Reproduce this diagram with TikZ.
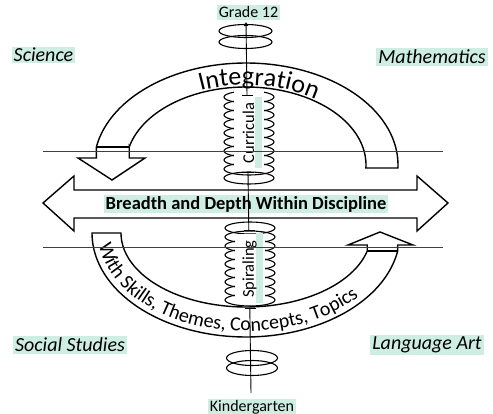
\documentclass[tikz,border=0pt]{standalone}
\usepackage{fontspec}
\setmainfont{Carlito}
\usetikzlibrary{decorations.text,arrows.meta}
\definecolor{hl}{RGB}{206,238,228}
\tikzset{
  band/.style={draw=black, line width=1.4pt, fill=white, line join=miter},
  seam/.style={draw=black, line width=1.2pt},
  ring/.style={draw=black, line width=1.1pt},
  axis/.style={draw=black, line width=0.9pt},
  guide/.style={draw=black!75, line width=0.9pt},
  tick/.style={draw=black, line width=0.9pt},
  hlbox/.style={fill=hl, inner xsep=2pt, inner ysep=1.5pt},
  corner/.style={hlbox, font=\fontsize{20}{20}\selectfont\itshape},
  endlabel/.style={hlbox, font=\fontsize{16}{16}\selectfont},
  coillabel/.style={rotate=90, inner sep=0pt, font=\fontsize{16.5}{16.5}\selectfont},
}
\begin{document}
\begin{tikzpicture}[x=1pt,y=-1pt]
\useasboundingbox (0,0) rectangle (493,414);
% middle coils
\foreach \yy in {97,106,...,178} \draw[ring] (249,\yy) ellipse [x radius=25pt, y radius=6pt];
\fill[white] (234,90) rectangle (264,171);
\foreach \yy in {228,237,...,300} \draw[ring] (250,\yy) ellipse [x radius=25pt, y radius=6pt];
\fill[white] (235,234) rectangle (265,303);
% top and bottom coils
\foreach \yy in {31,42} \draw[ring] (245.5,\yy) ellipse [x radius=26.5pt, y radius=6.5pt];
\foreach \yy in {358,368} \draw[ring] (252,\yy) ellipse [x radius=25.5pt, y radius=7.5pt];
% top band (Integration)
\draw[band] plot[domain=361.7:190.2, samples=90] ({246+152*cos(\x)},{165+102*sin(\x)})
  -- (96.4,158) -- (78,158) -- (112,180) -- (145,158) -- (129.2,158) -- (129.2,147)
  -- plot[domain=193.3:362.2, samples=90] ({246+120*cos(\x)},{165+78*sin(\x)}) -- cycle;
\draw[seam] (96.4,147) -- (129.2,147);
\path[decorate, decoration={text along path, text align=center,
   text={|\fontsize{26}{26}\selectfont|Integration}}]
  plot[domain=218:338, samples=80] ({246+121.5*cos(\x)},{165+80*sin(\x)});
% bottom band
\draw[band] plot[domain=180:10, samples=90] ({246+154*cos(\x)},{233+104*sin(\x)})
  -- (397.7,245) -- (413,245) -- (380,232) -- (348,245) -- (367.2,245)
  -- plot[domain=14.1:180, samples=90] ({246+125*cos(\x)},{233+74*sin(\x)}) -- cycle;
\draw[seam] (367.2,251) -- (397.7,251);
\path[decorate, decoration={text along path,
   text={|\fontsize{20}{20}\selectfont|With Skills, Themes, Concepts, Topics}}]
  plot[domain=173:10, samples=140] ({246+148*cos(\x)},{233+98*sin(\x)});
% double arrow
\draw[band] (43,203) -- (74,176) -- (74,190) -- (417,190) -- (417,176) -- (448,203)
  -- (417,231) -- (417,218) -- (74,218) -- (74,231) -- cycle;
\node[hlbox, font=\fontsize{18.5}{18.5}\selectfont\bfseries] (bd) at (246,204) {Breadth and Depth Within Discipline};
% coil labels
\fill[hl] (255,97) rectangle (262,168);
\node[coillabel] (curr) at (248.5,133) {Curricula};
\fill[hl] (256,233) rectangle (263,303);
\node[coillabel] (spir) at (249.5,269) {Spiraling};
% axis
\coordinate (atop) at (246,22);
\coordinate (a1) at (247,95);
\coordinate (a2) at (248,172);
\coordinate (a3) at (248.8,230);
\coordinate (a4) at (249.8,308);
\coordinate (abot) at (251,393);
\draw[axis,-{Latex[length=4pt,width=5pt]}] (a1) -- (atop);
\draw[axis] (a2) -- (a3);
\draw[axis] (a4) -- (abot);
\foreach \c in {a1,a2,a3,a4} \draw[tick] ([xshift=-5pt]\c) -- ([xshift=6pt]\c);
% guide lines
\coordinate (g1l) at (43,151); \coordinate (g1r) at (443,151);
\coordinate (g2l) at (43,247); \coordinate (g2r) at (443,247);
\draw[guide] (g1l) -- (g1r);
\draw[guide] (g2l) -- (g2r);
% labels
\node[endlabel] (grade) at (248.5,12.5) {Grade 12};
\node[endlabel] (kinder) at (252,407) {Kindergarten};
\node[corner] (sci) at (43.5,55) {Science};
\node[corner] (math) at (432,57) {Mathematics};
\node[corner] (soc) at (70,345) {Social Studies};
\node[corner] (lang) at (427,345) {Language Art};
\end{tikzpicture}
\end{document}
